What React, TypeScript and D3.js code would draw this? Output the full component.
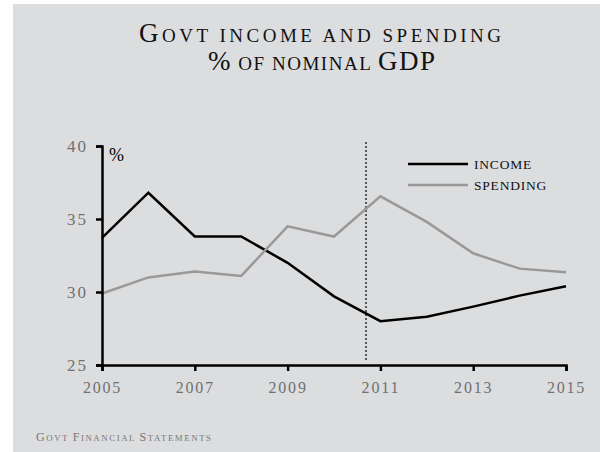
import React, { useEffect, useRef } from "react";
import * as d3 from "d3";

const years = [2005, 2006, 2007, 2008, 2009, 2010, 2011, 2012, 2013, 2014, 2015];
const income = [33.7, 36.8, 33.8, 33.8, 32.0, 29.7, 28.0, 28.3, 29.0, 29.75, 30.4];
const spending = [29.9, 31.0, 31.4, 31.1, 34.5, 33.8, 36.55, 34.8, 32.65, 31.6, 31.35];
const xTicks = [2005, 2007, 2009, 2011, 2013, 2015];
const yTicks = [25, 30, 35, 40];
const markerYear = 2010.69;
const seriesNames = ["INCOME", "SPENDING"];
const seriesColors = ["#000000", "#999999"];

// small-caps runs: [text, isCapital]
const titleLine1: [string, boolean][] = [["G", true], ["OVT INCOME AND SPENDING", false]];
const titleLine2: [string, boolean][] = [["%", true], [" OF NOMINAL ", false], ["GDP", true]];
const sourceRuns: [string, boolean][] = [
  ["G", true], ["OVT ", false], ["F", true], ["INANCIAL ", false], ["S", true], ["TATEMENTS", false],
];

const W = 600;
const H = 452;
const FONT = "'Liberation Serif', 'Times New Roman', serif";

function SmallCaps({
  runs, x, y, big, small, length, fill, anchor,
}: {
  runs: [string, boolean][]; x: number; y: number; big: number; small: number;
  length: number; fill: string; anchor: "start" | "middle";
}) {
  return (
    <text
      x={x}
      y={y}
      textAnchor={anchor}
      fill={fill}
      fontFamily={FONT}
      textLength={length}
      lengthAdjust="spacing"
      style={{ whiteSpace: "pre" }}
    >
      {runs.map(([t, cap], i) => (
        <tspan key={i} fontSize={cap ? big : small}>
          {t}
        </tspan>
      ))}
    </text>
  );
}

export default function App() {
  const xAxisRef = useRef<SVGGElement>(null);
  const yAxisRef = useRef<SVGGElement>(null);

  const x = d3.scaleLinear().domain([2005, 2015]).range([102, 566]);
  const y = d3.scaleLinear().domain([25, 40]).range([365, 146]);

  useEffect(() => {
    const xa = d3.axisBottom(x).tickValues(xTicks).tickSize(6).tickSizeOuter(6).tickFormat(d3.format("d"));
    const ya = d3.axisLeft(y).tickValues(yTicks).tickSize(6).tickSizeOuter(6).tickFormat(d3.format("d"));
    const gx = d3.select(xAxisRef.current!);
    gx.call(xa as any);
    gx.attr("font-family", FONT).attr("font-size", 16);
    gx.select(".domain").attr("stroke", "#000").attr("stroke-width", 2.5);
    gx.selectAll(".tick line").attr("stroke", "#000").attr("stroke-width", 2.5);
    gx.selectAll(".tick text")
      .attr("fill", "#707070")
      .attr("letter-spacing", 1.8)
      .attr("dy", "1.2em");
    const gy = d3.select(yAxisRef.current!);
    gy.call(ya as any);
    gy.attr("font-family", FONT).attr("font-size", 17);
    gy.select(".domain").attr("stroke", "#000").attr("stroke-width", 2.5);
    gy.selectAll(".tick line").attr("stroke", "#000").attr("stroke-width", 2.5);
    gy.selectAll(".tick text")
      .attr("fill", "#707070")
      .attr("letter-spacing", 2)
      .attr("x", -14);
  }, []);

  const line = d3
    .line<number>()
    .x((_, i) => x(years[i]))
    .y((d) => y(d));

  const series = [income, spending];

  return (
    <svg
      width={W}
      height={H}
      style={{ position: "absolute", left: 0, top: 0, background: "#fff" }}
      fontFamily={FONT}
    >
      <rect x={13} y={4} width={W - 13} height={H - 4} fill="#dcdddf" />
      <SmallCaps runs={titleLine1} x={320} y={41.5} big={27} small={19} length={362} fill="#111" anchor="middle" />
      <SmallCaps runs={titleLine2} x={321.5} y={69.5} big={27} small={19} length={227} fill="#111" anchor="middle" />

      <line
        x1={x(markerYear)}
        x2={x(markerYear)}
        y1={142}
        y2={362}
        stroke="#000"
        strokeWidth={1.2}
        strokeDasharray="2,2"
      />

      {series.map((s, i) => (
        <path key={i} d={line(s) || ""} fill="none" stroke={seriesColors[i]} strokeWidth={2.5} strokeLinejoin="miter" />
      ))}

      <g ref={xAxisRef} transform={`translate(0,${y(25)})`} />
      <g ref={yAxisRef} transform={`translate(${x(2005)},0)`} />

      <text x={109} y={161} fontSize={18} fill="#000">%</text>

      {seriesNames.map((n, i) => (
        <g key={n}>
          <line x1={408} x2={468} y1={164 + i * 21} y2={164 + i * 21} stroke={seriesColors[i]} strokeWidth={2.5} />
          <text x={474} y={164 + i * 21} dy="0.35em" fontSize={13.5} letterSpacing={0.8} fill="#111">
            {n}
          </text>
        </g>
      ))}

      <SmallCaps runs={sourceRuns} x={36} y={440.5} big={12} small={8.8} length={175} fill="#777" anchor="start" />
    </svg>
  );
}
